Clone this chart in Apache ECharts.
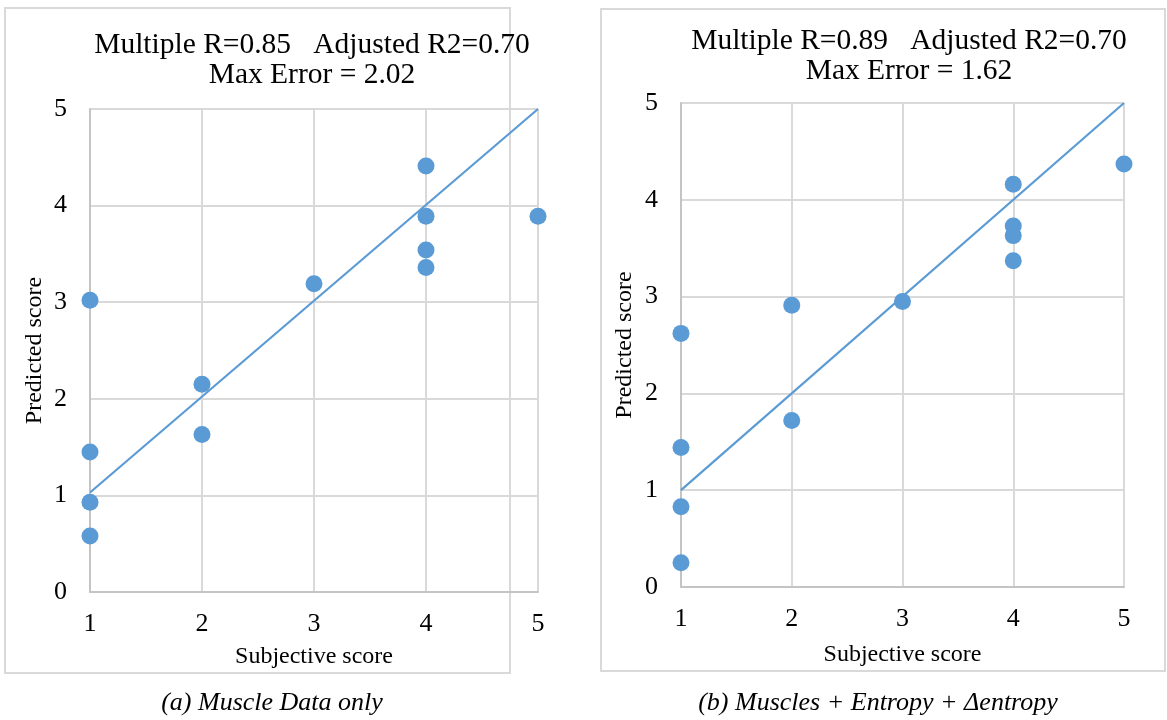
<!DOCTYPE html>
<html>
<head>
<meta charset="utf-8">
<script src="https://cdn.jsdelivr.net/npm/echarts@6/dist/echarts.min.js"></script>
<style>
	html, body { margin: 0; padding: 0; background: #fff; }
	#chart { width: 1167px; height: 720px; }
</style>
</head>
<body>
<div id="chart"></div>
<script>
// panel (a) Muscle Data only
var subjA = [ 1, 1, 1, 1, 2, 2, 3, 4, 4, 4, 4, 5 ];
var predA = [ 3.02, 1.45, 0.93, 0.58, 2.15, 1.63, 3.19, 4.41, 3.89, 3.54, 3.36, 3.89 ];
var fitA = [ [ 1, 1.03 ], [ 5, 5 ] ];

// panel (b) Muscles + Entropy + Δentropy
var subjB = [ 1, 1, 1, 1, 2, 2, 3, 4, 4, 4, 4, 5 ];
var predB = [ 2.62, 1.44, 0.83, 0.25, 2.91, 1.72, 2.95, 4.16, 3.73, 3.63, 3.37, 4.37 ];
var fitB = [ [ 1, 1 ], [ 5, 5 ] ];

var titles = [ 'Multiple R=0.85   Adjusted R2=0.70\nMax Error = 2.02',
		'Multiple R=0.89   Adjusted R2=0.70\nMax Error = 1.62' ];
var captions = [ '(a) Muscle Data only', '(b) Muscles + Entropy + Δentropy' ];

var font = 'Liberation Serif';
var blue = '#5b9bd5';

function pairs(xs, ys) {
	var out = [];
	for ( var i = 0; i < xs.length; i++) {
		out.push([ xs[i], ys[i] ]);
	}
	return out;
}

function xAxisFor(idx, gap) {
	return {
		gridIndex : idx,
		type : 'value',
		min : 1,
		max : 5,
		interval : 1,
		name : 'Subjective score',
		nameLocation : 'middle',
		nameGap : gap,
		nameTextStyle : { fontFamily : font, fontSize : 24, color : '#000' },
		axisLine : { lineStyle : { color : '#c4c4c4', width : 2 } },
		axisTick : { show : false },
		axisLabel : { fontFamily : font, fontSize : 26, color : '#000', margin : 19 },
		splitLine : { lineStyle : { color : '#d9d9d9', width : 2 } }
	};
}

function yAxisFor(idx, gap) {
	return {
		gridIndex : idx,
		type : 'value',
		min : 0,
		max : 5,
		interval : 1,
		name : 'Predicted score',
		nameLocation : 'middle',
		nameRotate : 90,
		nameGap : gap,
		nameTextStyle : { fontFamily : font, fontSize : 24, color : '#000' },
		axisLine : { show : true, lineStyle : { color : '#c4c4c4', width : 2 } },
		axisTick : { show : false },
		axisLabel : { fontFamily : font, fontSize : 26, color : '#000', margin : 23 },
		splitLine : { lineStyle : { color : '#d9d9d9', width : 2 } }
	};
}

var chart = echarts.init(document.getElementById('chart'));
var option = {
	animation : false,
	backgroundColor : '#fff',
	title : [ {
		text : titles[0],
		left : 307,
		top : 25,
		textAlign : 'center',
		textStyle : { fontFamily : font, fontSize : 29.5, fontWeight : 'normal', color : '#000', lineHeight : 30, align : 'center' }
	}, {
		text : titles[1],
		left : 904,
		top : 21,
		textAlign : 'center',
		textStyle : { fontFamily : font, fontSize : 29.5, fontWeight : 'normal', color : '#000', lineHeight : 30, align : 'center' }
	} ],
	grid : [ { left : 90, top : 109, width : 448, height : 483 },
			{ left : 681, top : 103, width : 443, height : 484 } ],
	xAxis : [ xAxisFor(0, 53), xAxisFor(1, 56) ],
	yAxis : [ yAxisFor(0, 43), yAxisFor(1, 44) ],
	series : [ {
		type : 'line',
		xAxisIndex : 0,
		yAxisIndex : 0,
		data : fitA,
		symbol : 'none',
		lineStyle : { color : blue, width : 2.2 },
		z : 2
	}, {
		type : 'scatter',
		xAxisIndex : 0,
		yAxisIndex : 0,
		data : pairs(subjA, predA),
		symbolSize : 17,
		itemStyle : { color : blue, opacity : 1 },
		z : 3
	}, {
		type : 'line',
		xAxisIndex : 1,
		yAxisIndex : 1,
		data : fitB,
		symbol : 'none',
		lineStyle : { color : blue, width : 2.2 },
		z : 2
	}, {
		type : 'scatter',
		xAxisIndex : 1,
		yAxisIndex : 1,
		data : pairs(subjB, predB),
		symbolSize : 17,
		itemStyle : { color : blue, opacity : 1 },
		z : 3
	} ],
	graphic : [ {
		type : 'rect',
		shape : { x : 5, y : 8, width : 505, height : 665 },
		style : { fill : 'none', stroke : '#d9d9d9', lineWidth : 2 },
		silent : true
	}, {
		type : 'rect',
		shape : { x : 601, y : 9, width : 564, height : 662 },
		style : { fill : 'none', stroke : '#d9d9d9', lineWidth : 2 },
		silent : true
	}, {
		type : 'text',
		x : 272,
		y : 703,
		style : { text : captions[0], font : 'italic 26px "Liberation Serif"', fill : '#000', textAlign : 'center', textVerticalAlign : 'middle' }
	}, {
		type : 'text',
		x : 878,
		y : 703,
		style : { text : captions[1], font : 'italic 26px "Liberation Serif"', fill : '#000', textAlign : 'center', textVerticalAlign : 'middle' }
	} ]
};
chart.setOption(option);
window.onresize = chart.resize;
</script>
</body>
</html>
